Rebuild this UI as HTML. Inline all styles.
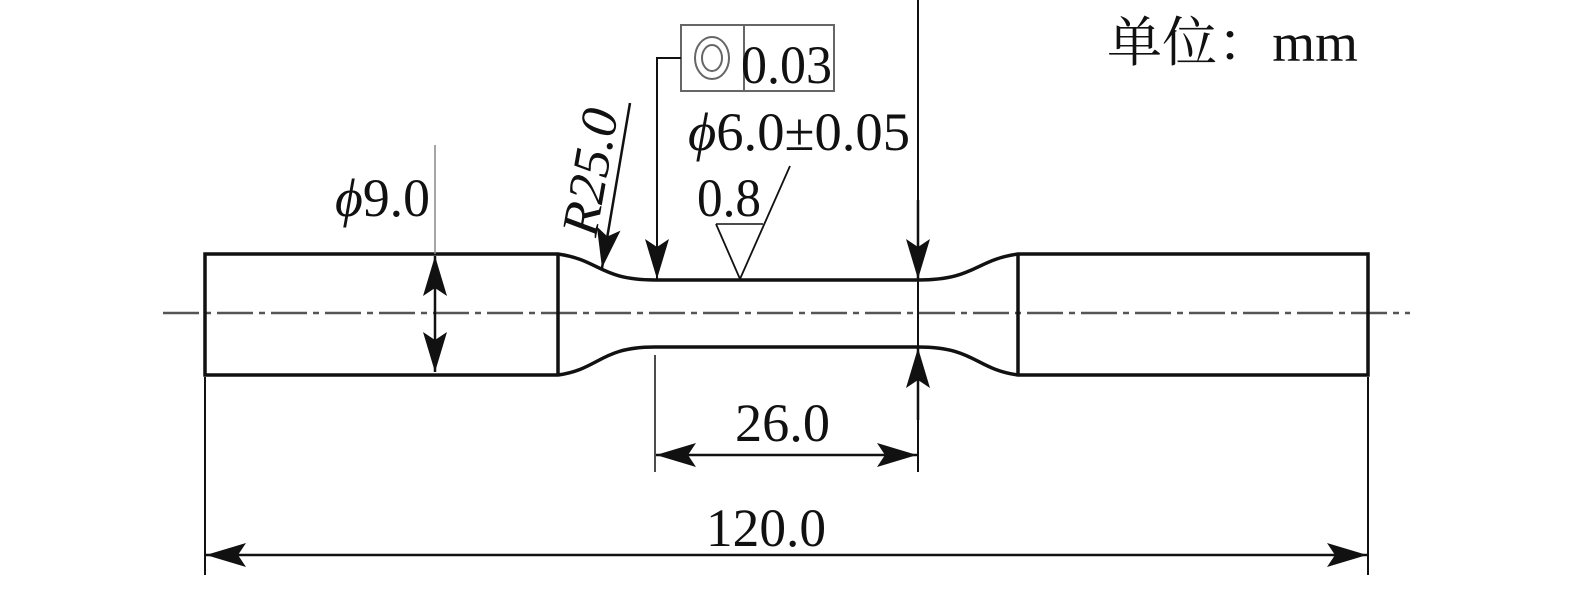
<!DOCTYPE html>
<html><head><meta charset="utf-8"><style>
html,body{margin:0;padding:0;background:#fff;}
svg{display:block;}
text{font-family:"Liberation Serif","Noto Serif CJK SC",serif;fill:#111;}
</style></head><body>
<svg width="1575" height="591" viewBox="0 0 1575 591" xmlns="http://www.w3.org/2000/svg">
<defs>
<marker id="b" viewBox="0 0 40 24" refX="40" refY="12" markerWidth="40" markerHeight="24" markerUnits="userSpaceOnUse" orient="auto-start-reverse">
<path d="M0,0 L40,12 L0,24 L8,12 z" fill="#111"/>
</marker>
</defs>
<line x1="163" y1="313" x2="1410" y2="313" stroke="#555" stroke-width="2.5" stroke-dasharray="36,6,6,6"/>
<g fill="none" stroke="#111" stroke-width="3.5">
<path d="M205,254 H558 C600,260 600,280 655,280 H918 C975,280 975,260 1018,254 H1368 V375 H1018 C975,369 975,347 918,347 H655 C600,347 600,369 558,375 H205 Z"/>
<line x1="558" y1="254" x2="558" y2="375"/>
<line x1="1018" y1="254" x2="1018" y2="375"/>
</g>
<line x1="435" y1="145" x2="435" y2="254" stroke="#888" stroke-width="1.5"/>
<line x1="435" y1="256" x2="435" y2="372" stroke="#111" stroke-width="2.5" marker-start="url(#b)" marker-end="url(#b)"/>
<text x="335" y="216" font-size="54" textLength="95" lengthAdjust="spacingAndGlyphs"><tspan font-style="italic">ϕ</tspan>9.0</text>
<line x1="655" y1="355" x2="655" y2="472" stroke="#111" stroke-width="1.5"/>
<line x1="918" y1="0" x2="918" y2="472" stroke="#111" stroke-width="2"/>
<line x1="205" y1="377" x2="205" y2="575" stroke="#111" stroke-width="2"/>
<line x1="1368" y1="377" x2="1368" y2="575" stroke="#111" stroke-width="2"/>
<line x1="918" y1="200" x2="918" y2="279" stroke="#111" stroke-width="2.5" marker-end="url(#b)"/>
<line x1="918" y1="420" x2="918" y2="348" stroke="#111" stroke-width="2.5" marker-end="url(#b)"/>
<line x1="656" y1="455" x2="917" y2="455" stroke="#111" stroke-width="2.5" marker-start="url(#b)" marker-end="url(#b)"/>
<text x="735" y="441" font-size="54" textLength="95" lengthAdjust="spacingAndGlyphs">26.0</text>
<line x1="206" y1="555" x2="1367" y2="555" stroke="#111" stroke-width="2.5" marker-start="url(#b)" marker-end="url(#b)"/>
<text x="706" y="546" font-size="54" textLength="120" lengthAdjust="spacingAndGlyphs">120.0</text>
<rect x="681" y="25" width="153" height="66" fill="none" stroke="#666" stroke-width="2"/>
<line x1="744" y1="25" x2="744" y2="91" stroke="#666" stroke-width="2"/>
<ellipse cx="712" cy="58" rx="17" ry="21" fill="none" stroke="#666" stroke-width="2"/>
<ellipse cx="712" cy="58" rx="10" ry="13" fill="none" stroke="#666" stroke-width="2"/>
<text x="741" y="83" font-size="54" textLength="91" lengthAdjust="spacingAndGlyphs">0.03</text>
<polyline points="681,58 657,58 657,279" fill="none" stroke="#111" stroke-width="2" marker-end="url(#b)"/>
<line x1="630" y1="103" x2="602" y2="268" stroke="#111" stroke-width="2.5" marker-end="url(#b)"/>
<text x="0" y="0" font-size="52" font-style="italic" textLength="128" lengthAdjust="spacingAndGlyphs" transform="translate(596,238) rotate(-80)">R25.0</text>
<text x="688" y="150" font-size="54" textLength="222" lengthAdjust="spacingAndGlyphs"><tspan font-style="italic">ϕ</tspan>6.0±0.05</text>
<text x="697" y="216" font-size="54" textLength="64" lengthAdjust="spacingAndGlyphs">0.8</text>
<polyline points="716,224 763,224" stroke="#111" stroke-width="1.5" fill="none"/>
<polyline points="716,224 740,279 790,166" stroke="#111" stroke-width="1.8" fill="none"/>
<text x="1107" y="61" font-size="54" textLength="251" lengthAdjust="spacingAndGlyphs">单位：mm</text>
</svg>
</body></html>
